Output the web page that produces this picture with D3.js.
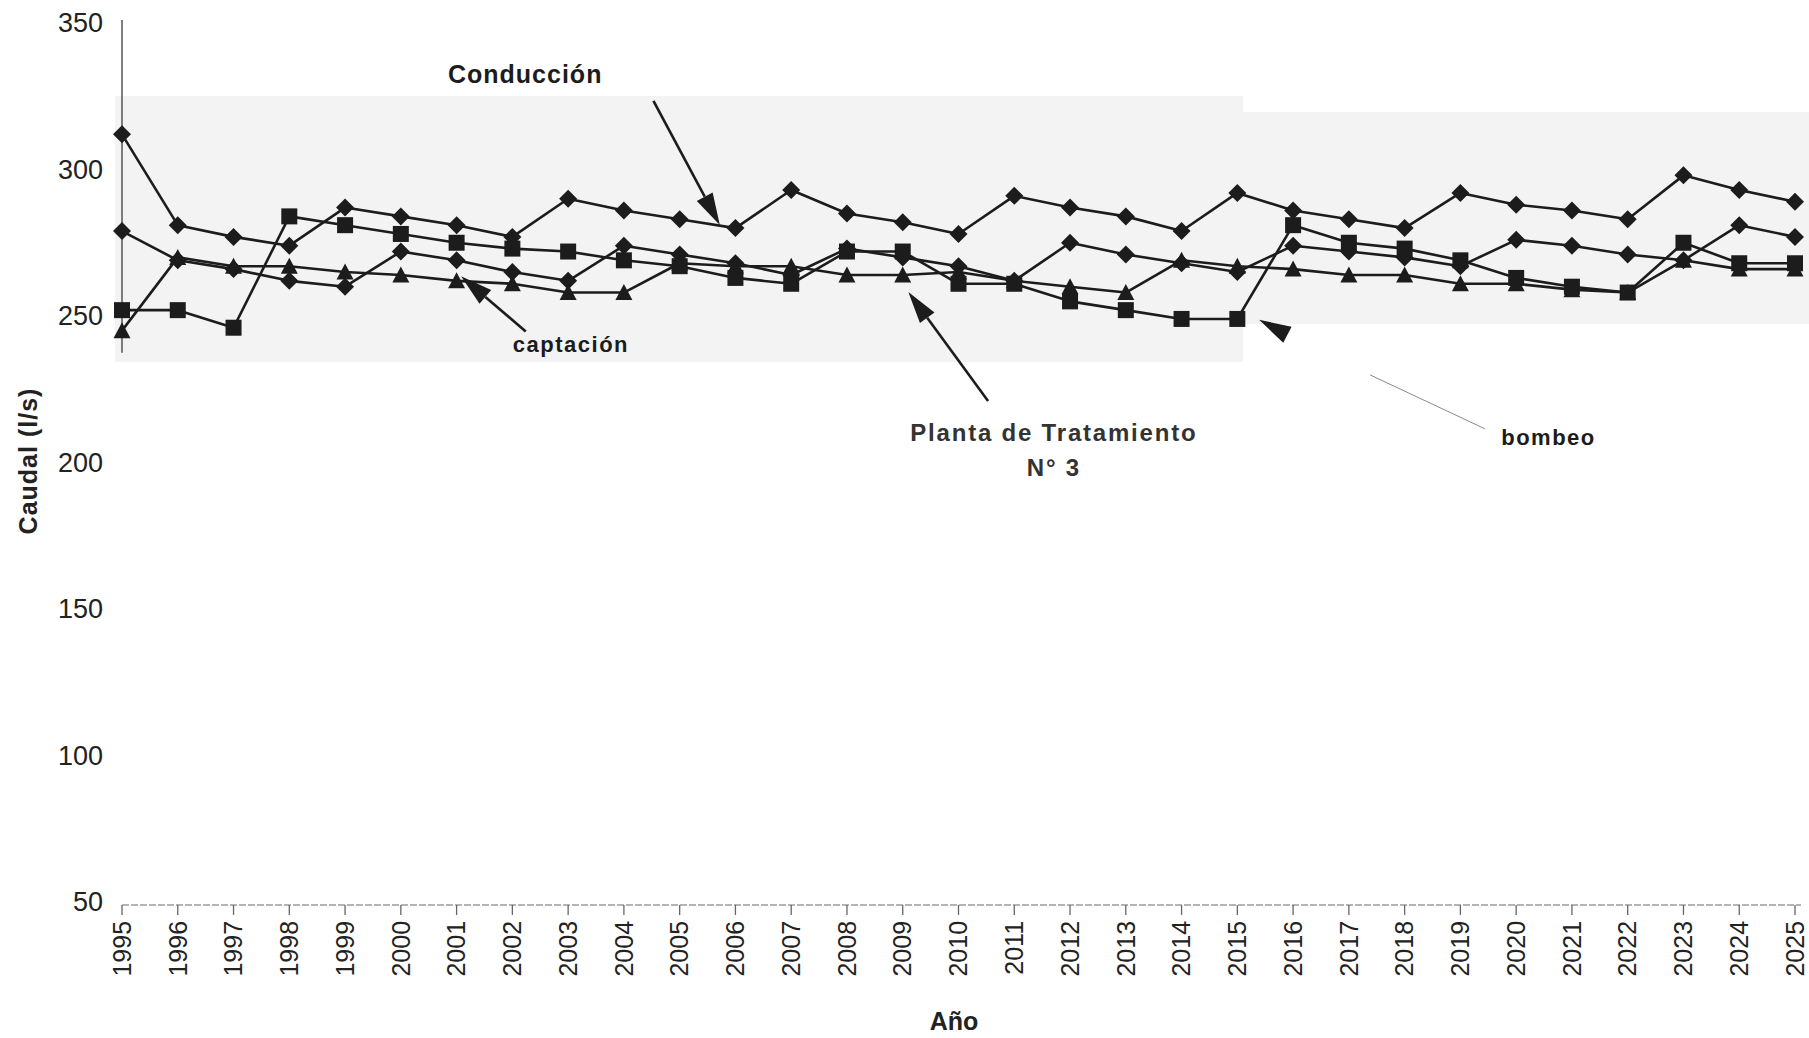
<!DOCTYPE html>
<html><head><meta charset="utf-8">
<script src="https://cdn.jsdelivr.net/npm/d3@7"></script>
<style>
body{margin:0;background:#fff;}
svg{display:block;}
text{font-family:"Liberation Sans",Arial,Helvetica,sans-serif;}
</style>
</head><body>
<svg id="chart" width="1809" height="1038"></svg>
<script>
// ---------- data ----------
const years = [1995,1996,1997,1998,1999,2000,2001,2002,2003,2004,2005,2006,2007,2008,2009,2010,
               2011,2012,2013,2014,2015,2016,2017,2018,2019,2020,2021,2022,2023,2024,2025];
const yTicks = [50,100,150,200,250,300,350];

const conduccion = [312,281,277,274,287,284,281,277,290,286,283,280,293,285,282,278,
                    291,287,284,279,292,286,283,280,292,288,286,283,298,293,289];
const captacion  = [279,269,266,262,260,272,269,265,262,274,271,268,264,273,270,267,
                    262,275,271,268,265,274,272,270,267,276,274,271,269,281,277];
const planta     = [245,270,267,267,265,264,262,261,258,258,268,267,267,264,264,265,
                    262,260,258,269,267,266,264,264,261,261,259,258,269,266,266];
const bombeo     = [252,252,246,284,281,278,275,273,272,269,267,263,261,272,272,261,
                    261,255,252,249,249,281,275,273,269,263,260,258,275,268,268];

const series = [
  {name:"Conducción", values:conduccion, marker:"diamond"},
  {name:"captación",  values:captacion,  marker:"diamond"},
  {name:"Planta de Tratamiento N° 3", values:planta, marker:"triangle"},
  {name:"bombeo",     values:bombeo,     marker:"square"}
];

// annotation positions in data space (year, caudal)
const labels = [
  {lines:["Conducción"], x:2002.23, y:332.6, size:25, ls:1},
  {lines:["captación"],  x:2003.05, y:240.5, size:22, ls:1.5},
  {lines:["Planta de Tratamiento","N° 3"], x:2011.71, y:210.1, size:24, ls:1.8, gap:35, fill:"#333"},
  {lines:["bombeo"],     x:2020.58, y:208.7, size:22, ls:1.5}
];
const arrows = [
  {from:[2004.53,323.4], to:[2005.72,281.1]},
  {from:[2002.24,244.7], to:[2001.08,263.6]},
  {from:[2010.53,221.0], to:[2009.10,258.2]}
];
const headOnly = {from:[2015.92,243.4], to:[2015.39,248.7]};
const faintLine = {from:[2017.38,229.9], to:[2019.44,211.5]};

// ---------- layout ----------
const svg = d3.select("#chart");
const x = d3.scaleLinear().domain([1995,2025]).range([122,1795]);
const y = d3.scaleLinear().domain([50,350]).range([902,23]);
const ink = "#1c1c1c";

// scanned shaded band
svg.append("rect").attr("x",115).attr("y",96).attr("width",1128).attr("height",266).attr("fill","#f3f3f3");
svg.append("rect").attr("x",1243).attr("y",112).attr("width",566).attr("height",212).attr("fill","#f3f3f3");

// y axis (only the visible part of the line)
svg.append("line").attr("x1",x(1995)).attr("x2",x(1995)).attr("y1",y(351)).attr("y2",y(237.5))
   .attr("stroke","#555").attr("stroke-width",1.5);

// y tick labels
svg.append("g").selectAll("text").data(yTicks).join("text")
  .attr("x",103).attr("y",d=>y(d)).attr("dy","0.35em").attr("text-anchor","end")
  .attr("font-size",27).attr("fill","#222").text(d=>d);

// x axis
const axisY = y(49);
svg.append("line").attr("x1",x(1995)).attr("x2",x(2025)+6).attr("y1",axisY).attr("y2",axisY)
   .attr("stroke","#9c9c9c").attr("stroke-width",1.5).attr("stroke-dasharray","7,2");
svg.append("g").selectAll("line").data(years).join("line")
  .attr("x1",d=>x(d)).attr("x2",d=>x(d)).attr("y1",axisY).attr("y2",axisY+10)
  .attr("stroke","#666").attr("stroke-width",1.3);
svg.append("g").selectAll("text").data(years).join("text")
  .attr("transform",d=>`translate(${x(d)},${axisY+16}) rotate(-90)`)
  .attr("dy","0.35em").attr("text-anchor","end").attr("font-size",25).attr("fill","#222")
  .text(d=>d);

// axis titles
svg.append("text").attr("x",954).attr("y",1021).attr("text-anchor","middle").attr("dy","0.35em")
  .attr("font-size",25).attr("font-weight","bold").attr("fill","#222").text("Año");
svg.append("text").attr("transform","translate(28,461) rotate(-90)").attr("text-anchor","middle")
  .attr("dy","0.35em").attr("font-size",25).attr("letter-spacing",1).attr("font-weight","bold")
  .attr("fill","#222").text("Caudal (l/s)");

// lines
const line = d3.line().x((d,i)=>x(years[i])).y(d=>y(d));
svg.append("g").selectAll("path").data(series).join("path")
  .attr("d",s=>line(s.values)).attr("fill","none").attr("stroke",ink).attr("stroke-width",2.6)
  .attr("stroke-linejoin","round");

// markers
const shapes = {
  diamond: "M0,-9L9,0L0,9L-9,0Z",
  square: "M-8,-8H8V8H-8Z",
  triangle: "M0,-8.5L8.5,7.5L-8.5,7.5Z"
};
series.forEach(s=>{
  svg.append("g").selectAll("path").data(s.values).join("path")
    .attr("transform",(d,i)=>`translate(${x(years[i])},${y(d)})`)
    .attr("d",shapes[s.marker]).attr("fill",ink);
});

// annotations
function head(from,to,len,half){
  const x0=x(from[0]),y0=y(from[1]),x1=x(to[0]),y1=y(to[1]);
  const dx=x1-x0,dy=y1-y0,L=Math.hypot(dx,dy),ux=dx/L,uy=dy/L;
  const bx=x1-ux*len,by=y1-uy*len;
  return {x0,y0,bx,by,pts:[[x1,y1],[bx-uy*half,by+ux*half],[bx+uy*half,by-ux*half]]};
}
arrows.forEach(a=>{
  const h=head(a.from,a.to,32,9);
  svg.append("line").attr("x1",h.x0).attr("y1",h.y0).attr("x2",h.bx).attr("y2",h.by)
    .attr("stroke",ink).attr("stroke-width",2.6);
  svg.append("polygon").attr("points",h.pts.map(p=>p.join(",")).join(" ")).attr("fill",ink);
});
{
  const h=head(headOnly.from,headOnly.to,32,9);
  svg.append("polygon").attr("points",h.pts.map(p=>p.join(",")).join(" ")).attr("fill",ink);
}
svg.append("line").attr("x1",x(faintLine.from[0])).attr("y1",y(faintLine.from[1]))
  .attr("x2",x(faintLine.to[0])).attr("y2",y(faintLine.to[1]))
  .attr("stroke","#8a8a8a").attr("stroke-width",1);

labels.forEach(l=>{
  l.lines.forEach((t,k)=>{
    svg.append("text").attr("x",x(l.x)).attr("y",y(l.y)+k*(l.gap||0)).attr("dy","0.35em")
      .attr("text-anchor","middle").attr("font-size",l.size).attr("font-weight","bold")
      .attr("letter-spacing",l.ls||0)
      .attr("fill",l.fill||"#1c1c1c").text(t);
  });
});
</script>
</body></html>
